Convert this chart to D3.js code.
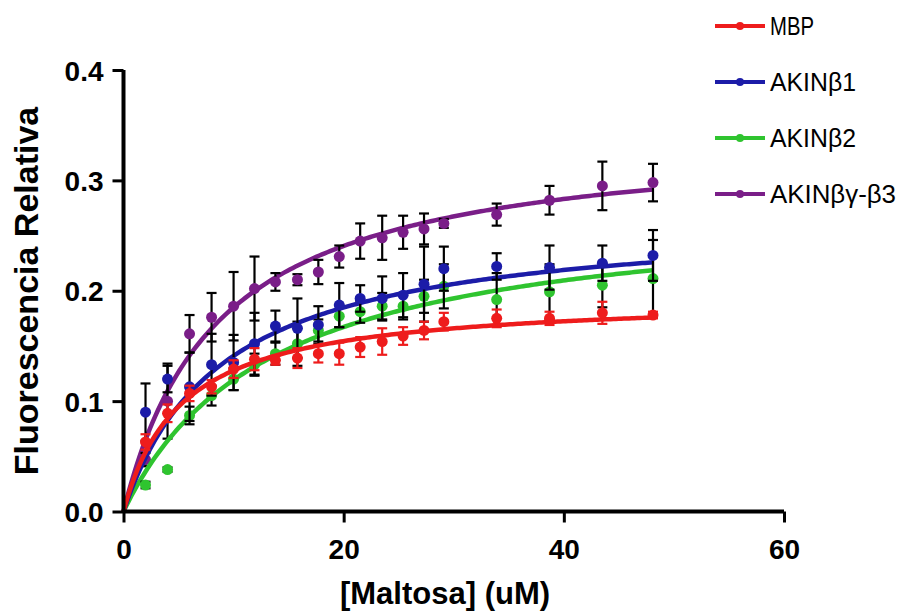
<!DOCTYPE html>
<html>
<head>
<meta charset="utf-8">
<script src="https://cdn.jsdelivr.net/npm/d3@7"></script>
<style>
  html, body { margin: 0; padding: 0; background: #ffffff; }
  svg { display: block; }
  text { font-family: "Liberation Sans", Arial, Helvetica, sans-serif; fill: #000; }
</style>
</head>
<body>
<svg id="chart" width="904" height="616"></svg>
<script>
// Maltose concentrations (uM)
const maltosa = [2, 4, 6, 8, 10, 11.9, 13.8, 15.8, 17.7, 19.6, 21.5, 23.5, 25.4, 27.3, 29.1, 33.9, 38.7, 43.5, 48.1];

// Series names
const series = ["MBP", "AKINβ1", "AKINβ2", "AKINβγ-β3"];

// Mean relative fluorescence per series
const mbpMean  = [0.063, 0.089, 0.107, 0.113, 0.129, 0.138, 0.137, 0.139, 0.143, 0.143, 0.149, 0.154, 0.159, 0.164, 0.172, 0.175, 0.175, 0.180, 0.178];
const b1Mean   = [0.090, 0.120, 0.113, 0.133, 0.135, 0.152, 0.168, 0.166, 0.169, 0.187, 0.193, 0.193, 0.196, 0.206, 0.220, 0.222, 0.221, 0.225, 0.232];
const b2Mean   = [0.024, 0.038, 0.087, 0.105, 0.120, 0.133, 0.143, 0.152, 0.164, 0.177, 0.181, 0.186, 0.186, 0.195, 0.204, 0.192, 0.199, 0.205, 0.211];
const b3Mean   = [0.047, 0.100, 0.161, 0.176, 0.186, 0.202, 0.208, 0.210, 0.217, 0.231, 0.245, 0.248, 0.253, 0.256, 0.261, 0.269, 0.282, 0.295, 0.298];

// Error (SD) per series
const mbpErr = [0.007, 0.008, 0.007, 0.006, 0.008, 0.010, 0.004, 0.009, 0.008, 0.010, 0.009, 0.012, 0.008, 0.008, 0.008, 0.008, 0.006, 0.010, 0.003];
const b1Err  = [0.026, 0.012, 0.031, 0.028, 0.025, 0.028, 0.014, 0.027, 0.017, 0.020, 0.012, 0.020, 0.020, 0.034, 0.020, 0.012, 0.020, 0.016, 0.023];
const b2Err  = [0.003, 0.002, 0.008, 0.009, 0.010, 0.010, 0.010, 0.020, 0.010, 0.010, 0.010, 0.012, 0.012, 0.015, 0.020, 0.024, 0.025, 0.020, 0.035];
const b3Err  = [0.006, 0.034, 0.017, 0.022, 0.031, 0.029, 0.008, 0.005, 0.011, 0.010, 0.016, 0.020, 0.015, 0.014, 0.004, 0.010, 0.013, 0.022, 0.017];

// One-site binding fit parameters: y = Bmax * x / (Kd + x)
const fitBmax = [0.195, 0.268, 0.280, 0.344];
const fitKd   = [5.26, 9.0, 13.5, 8.6];

// Axis ticks
const xTicks = [0, 20, 40, 60];
const yTicks = [0.0, 0.1, 0.2, 0.3, 0.4];

const colors = ["#ee1c1c", "#1c1ca8", "#2fc42f", "#7a1e88"];
const errColors = ["#ee1c1c", "#000", "#000", "#000"];
const means = [mbpMean, b1Mean, b2Mean, b3Mean];
const errs = [mbpErr, b1Err, b2Err, b3Err];

const svg = d3.select("#chart");
const x = d3.scaleLinear().domain([0, 60]).range([123.5, 784]);
const y = d3.scaleLinear().domain([0, 0.4]).range([511.5, 70]);

// Draw order: purple, green, blue, red on top
const order = [3, 2, 1, 0];
const plot = svg.append("g");

order.forEach(i => {
  const g = plot.append("g");
  // fitted curve
  const xs = d3.range(0, 200 + 1).map(k => k / 200 * d3.max(maltosa));
  const line = d3.line()
    .x(d => x(d))
    .y(d => y(fitBmax[i] * d / (fitKd[i] + d)));
  g.append("path")
    .datum(xs)
    .attr("d", line)
    .attr("fill", "none")
    .attr("stroke", colors[i])
    .attr("stroke-width", 4.5);

  const pts = maltosa.map((m, k) => ({ x: m, v: means[i][k], e: errs[i][k] }));
  // error bars
  const eb = g.selectAll(".eb").data(pts).enter().append("g")
    .attr("stroke", errColors[i]).attr("stroke-width", 2.2);
  eb.append("line")
    .attr("x1", d => x(d.x)).attr("x2", d => x(d.x))
    .attr("y1", d => y(d.v + d.e)).attr("y2", d => y(d.v - d.e));
  eb.append("line")
    .attr("x1", d => x(d.x) - 5).attr("x2", d => x(d.x) + 5)
    .attr("y1", d => y(d.v + d.e)).attr("y2", d => y(d.v + d.e));
  eb.append("line")
    .attr("x1", d => x(d.x) - 5).attr("x2", d => x(d.x) + 5)
    .attr("y1", d => y(d.v - d.e)).attr("y2", d => y(d.v - d.e));
  // markers
  g.selectAll(".pt").data(pts).enter().append("circle")
    .attr("cx", d => x(d.x)).attr("cy", d => y(d.v))
    .attr("r", 5.5)
    .attr("fill", colors[i]);
});

// Axes
const xAxis = d3.axisBottom(x).tickValues(xTicks).tickSize(11).tickPadding(16).tickFormat(d3.format("d"));
const yAxis = d3.axisLeft(y).tickValues(yTicks).tickSize(11).tickPadding(9).tickFormat(d3.format(".1f"));

const gx = svg.append("g").attr("transform", "translate(0,511.5)").call(xAxis);
const gy = svg.append("g").attr("transform", "translate(123.5,0)").call(yAxis);

[gx, gy].forEach(g => {
  g.select(".domain").attr("stroke", "#000").attr("stroke-width", 4);
  g.selectAll(".tick line").attr("stroke", "#000").attr("stroke-width", 3);
  g.selectAll(".tick text")
    .attr("fill", "#000")
    .style("font-family", "'Liberation Sans', Arial, sans-serif")
    .style("font-weight", "bold")
    .style("font-size", "28px");
});
// axis lines without end ticks
gx.select(".domain").attr("d", `M${x(0)},0H${x(60)}`);
gy.select(".domain").attr("d", `M0,${y(0)}V${y(0.4)}`);
gx.selectAll(".tick text").attr("dy", "0.72em");
gy.selectAll(".tick text").attr("dy", "0.36em");

// Axis titles
svg.append("text")
  .attr("x", 445).attr("y", 604)
  .attr("text-anchor", "middle")
  .style("font-weight", "bold").style("font-size", "31px")
  .text("[Maltosa] (uM)");

svg.append("text")
  .attr("transform", "translate(38,291) rotate(-90)")
  .attr("text-anchor", "middle")
  .style("font-weight", "bold").style("font-size", "34px")
  .text("Fluorescencia Relativa");

// Legend
const legendY = [26, 82, 138, 194];
const legendTextW = [44, 86, 86, 126];
const leg = svg.append("g");
series.forEach((name, i) => {
  const row = leg.append("g").attr("transform", `translate(0,${legendY[i]})`);
  row.append("line")
    .attr("x1", 715).attr("x2", 765).attr("y1", 0).attr("y2", 0)
    .attr("stroke", colors[i]).attr("stroke-width", 4);
  row.append("circle").attr("cx", 740).attr("cy", 0).attr("r", 4).attr("fill", colors[i]);
  row.append("text")
    .attr("x", 770).attr("y", 9)
    .attr("textLength", legendTextW[i])
    .attr("lengthAdjust", "spacingAndGlyphs")
    .style("font-size", "25px")
    .text(name);
});
</script>
</body>
</html>
